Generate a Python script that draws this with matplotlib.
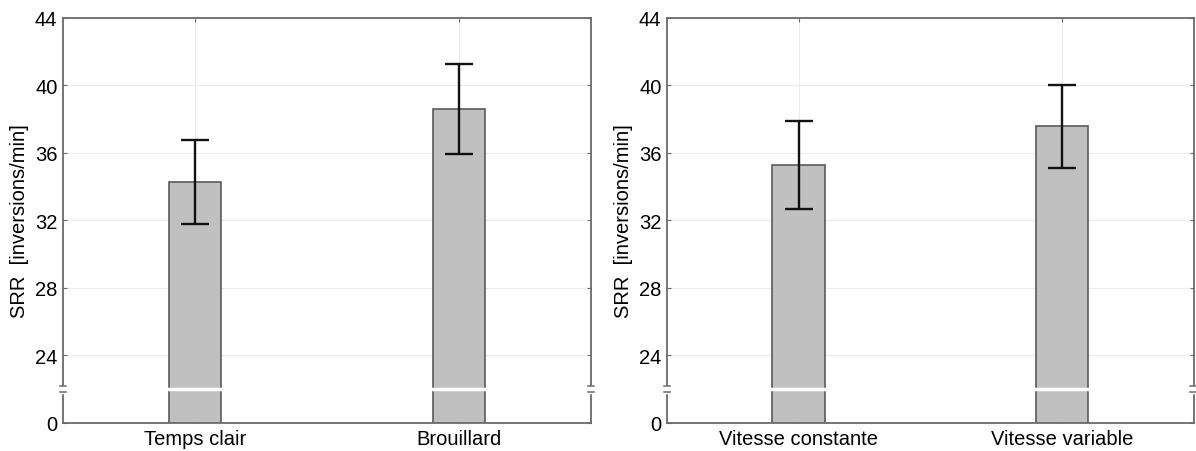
import numpy as np
import matplotlib.pyplot as plt

plt.rcParams['font.family'] = ['Liberation Sans', 'DejaVu Sans']

# Data (means and half-width of error bars)
cond_meteo = ['Temps clair', 'Brouillard']
srr_meteo = [34.28, 38.60]
err_meteo = [2.47, 2.67]

cond_vitesse = ['Vitesse constante', 'Vitesse variable']
srr_vitesse = [35.28, 37.58]
err_vitesse = [2.62, 2.47]

# Broken axis: value 20 on the scale is shown as "0"
ytick_pos = [20, 24, 28, 32, 36, 40, 44]
ytick_lab = ['0', '24', '28', '32', '36', '40', '44']
y_break = 22

fig = plt.figure(figsize=(11.96, 4.52), dpi=100)
ax1 = fig.add_axes([0.0527, 0.062, 0.4415, 0.896])
ax2 = fig.add_axes([0.5577, 0.062, 0.4403, 0.896])

spine_col = '#6a6a6a'
fs = 14.5

def draw_panel(ax, cats, vals, errs):
    x = np.arange(len(cats))
    ax.bar(x, vals, width=0.2, color='#c0c0c0', edgecolor='#5a5a5a',
           linewidth=1.2, zorder=2)
    ax.errorbar(x, vals, yerr=errs, fmt='none', ecolor='#111111',
                elinewidth=1.7, capsize=10, capthick=1.7, zorder=3)
    # white break line across the bars
    ax.axhline(y_break, color='white', lw=2.5, zorder=2.2)
    ax.set_xlim(-0.5, 1.5)
    ax.set_ylim(20, 44)
    ax.set_xticks(x)
    ax.set_xticklabels(cats, fontsize=fs)
    ax.set_yticks(ytick_pos)
    ax.set_yticklabels(ytick_lab, fontsize=fs)
    ax.set_ylabel('SRR  [inversions/min]', fontsize=fs, labelpad=4)
    ax.grid(True, color='#ececec', lw=0.8, zorder=0)
    ax.set_axisbelow(True)
    ax.tick_params(direction='in', length=3, color=spine_col,
                   top=True, right=True, pad=4)
    for s in ax.spines.values():
        s.set_color(spine_col)
        s.set_linewidth(1.3)
        s.set_zorder(4)
    # break marks on the left and right spines
    tr = ax.get_yaxis_transform()
    for xs in (0, 1):
        ax.plot([xs, xs], [y_break - 0.15, y_break + 0.15], color='white',
                lw=2.5, transform=tr, clip_on=False, zorder=5)
        for yb in (y_break - 0.18, y_break + 0.18):
            ax.plot([xs - 0.006, xs + 0.006], [yb, yb], color=spine_col,
                    lw=1.1, transform=tr, clip_on=False, zorder=6)

draw_panel(ax1, cond_meteo, srr_meteo, err_meteo)
draw_panel(ax2, cond_vitesse, srr_vitesse, err_vitesse)

fig.savefig('out.png', dpi=100)
